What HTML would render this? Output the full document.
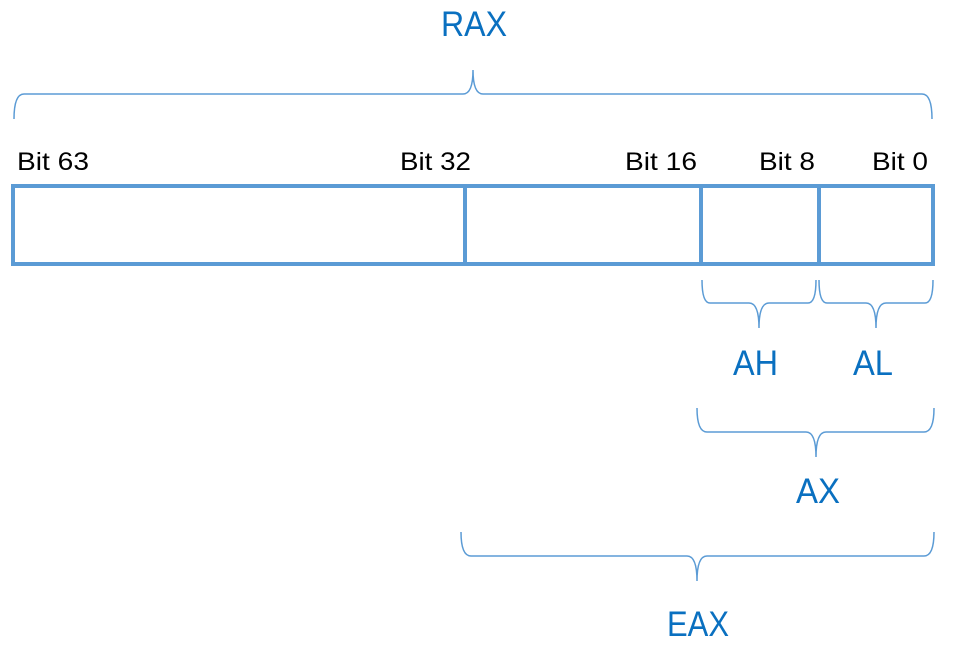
<!DOCTYPE html>
<html><head><meta charset="utf-8"><style>
html,body{margin:0;padding:0;background:#fff;}
svg{display:block}
.l{font-family:"Liberation Sans",sans-serif;fill:#0a70c0;font-size:35px;}
.b{font-family:"Liberation Sans",sans-serif;fill:#000;font-size:25px;}
.br{fill:none;stroke:#5b9bd5;stroke-width:1.5}
</style></head><body>
<svg width="963" height="660" viewBox="0 0 963 660">
<path class="br" d="M14,119 Q14,94 24,94 L463,94 Q473,94 473,70 Q473,94 483,94 L922,94 Q932,94 932,119"/>
<path class="br" d="M702,280 Q702,303 710,303 L749,303 Q759,303 759,328 Q759,303 769,303 L808,303 Q816,303 816,280"/>
<path class="br" d="M819,280 Q819,303 827,303 L866,303 Q876,303 876,328 Q876,303 886,303 L925,303 Q933,303 933,280"/>
<path class="br" d="M697,408 Q697,432 707,432 L806,432 Q816,432 816,457 Q816,432 826,432 L924,432 Q934,432 934,408"/>
<path class="br" d="M461,532 Q461,556 471,556 L687,556 Q697,556 697,581 Q697,556 707,556 L924,556 Q934,556 934,532"/>
<rect x="13" y="186" width="920" height="78" fill="none" stroke="#5b9bd5" stroke-width="4"/>
<line x1="465" y1="186" x2="465" y2="264" stroke="#5b9bd5" stroke-width="4"/>
<line x1="701" y1="186" x2="701" y2="264" stroke="#5b9bd5" stroke-width="4"/>
<line x1="819" y1="186" x2="819" y2="264" stroke="#5b9bd5" stroke-width="4"/>
<text class="b" x="17" y="170" textLength="72" lengthAdjust="spacingAndGlyphs">Bit 63</text>
<text class="b" x="400" y="170" textLength="71" lengthAdjust="spacingAndGlyphs">Bit 32</text>
<text class="b" x="625" y="170" textLength="72" lengthAdjust="spacingAndGlyphs">Bit 16</text>
<text class="b" x="759" y="170" textLength="56" lengthAdjust="spacingAndGlyphs">Bit 8</text>
<text class="b" x="872" y="170" textLength="56" lengthAdjust="spacingAndGlyphs">Bit 0</text>
<text class="l" x="441" y="36" textLength="66" lengthAdjust="spacingAndGlyphs">RAX</text>
<text class="l" x="733" y="375" textLength="45" lengthAdjust="spacingAndGlyphs">AH</text>
<text class="l" x="853" y="375" textLength="40" lengthAdjust="spacingAndGlyphs">AL</text>
<text class="l" x="796" y="503" textLength="44" lengthAdjust="spacingAndGlyphs">AX</text>
<text class="l" x="667" y="636" textLength="62" lengthAdjust="spacingAndGlyphs">EAX</text>
</svg>
</body></html>
